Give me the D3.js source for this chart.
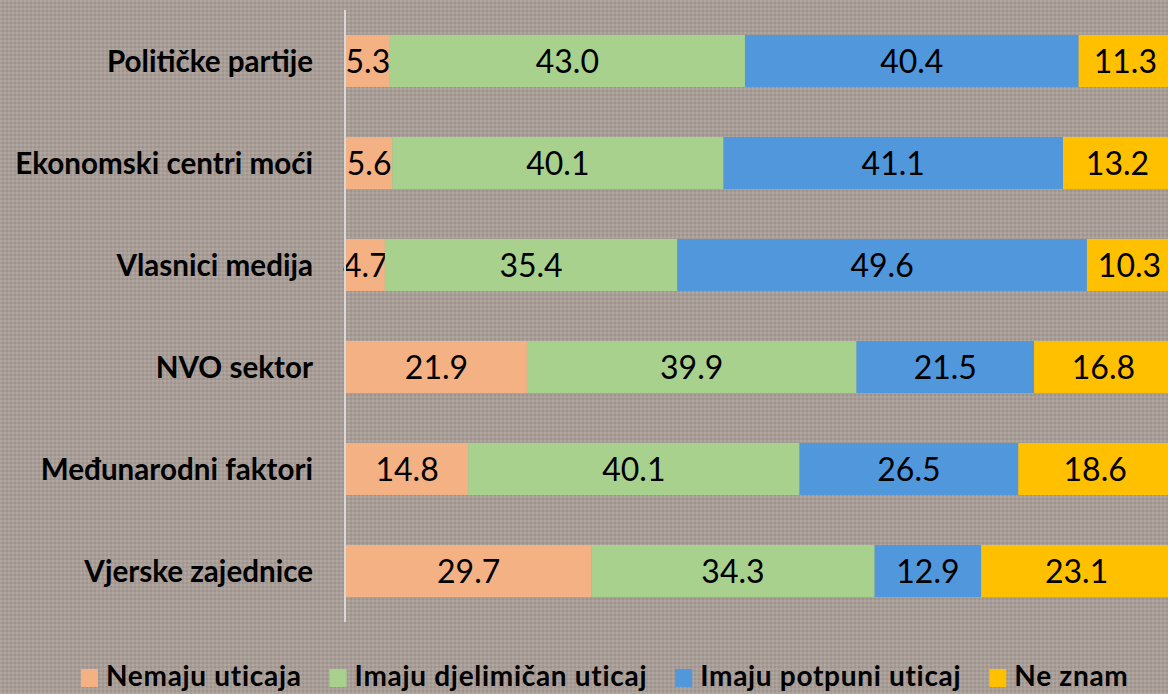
<!DOCTYPE html>
<html><head><meta charset="utf-8">
<script src="https://cdn.jsdelivr.net/npm/d3@7"></script>
<style>html,body{margin:0;padding:0;background:#a69c95;}svg{display:block;}</style>
</head><body>
<svg id="chart" width="1168" height="694"></svg>
<script>
const categories = ["Političke partije","Ekonomski centri moći","Vlasnici medija","NVO sektor","Međunarodni faktori","Vjerske zajednice"];
const seriesNames = ["Nemaju uticaja","Imaju djelimičan uticaj","Imaju potpuni uticaj","Ne znam"];
const nemaju = [5.3,5.6,4.7,21.9,14.8,29.7];
const djelimicno = [43.0,40.1,35.4,39.9,40.1,34.3];
const potpuni = [40.4,41.1,49.6,21.5,26.5,12.9];
const neZnam = [11.3,13.2,10.3,16.8,18.6,23.1];
const colors = ["#F4B183","#A9D18E","#5197DB","#FFC000"];

const svg = d3.select("#chart");
const defs = svg.append("defs");
const pat = defs.append("pattern").attr("id","tex").attr("width",4).attr("height",4).attr("patternUnits","userSpaceOnUse");
pat.append("rect").attr("width",4).attr("height",4).attr("fill","#a89e97");
pat.append("rect").attr("x",0).attr("y",0).attr("width",2).attr("height",2).attr("fill","#b0a7a0");
pat.append("rect").attr("x",2).attr("y",2).attr("width",2).attr("height",2).attr("fill","#9e948d");
svg.append("rect").attr("width",1168).attr("height",694).attr("fill","url(#tex)");

const data = categories.map((c,i)=>({cat:c,vals:[nemaju[i],djelimicno[i],potpuni[i],neZnam[i]]}));
const x = d3.scaleLinear().domain([0,100]).range([346,1172]);
const y = d3.scaleBand().domain(categories).range([10,622]).paddingInner(0.49).paddingOuter(0.245);

const rows = svg.append("g").selectAll("g").data(data).join("g");
rows.each(function(d){
  let acc = 0;
  const g = d3.select(this);
  d.vals.forEach((v,k)=>{
    const x0 = x(acc), x1 = x(acc+v);
    g.append("rect").attr("x",x0).attr("y",y(d.cat)).attr("width",x1-x0).attr("height",y.bandwidth()).attr("fill",colors[k]);
    g.append("text").attr("x",(x0+x1)/2).attr("y",y(d.cat)+y.bandwidth()/2).attr("dy","0.36em")
      .attr("text-anchor","middle").attr("font-family","Lato, 'Open Sans', sans-serif").attr("font-size",32)
      .attr("fill","#000").text(v.toFixed(1));
    acc += v;
  });
});

// axis
const yAxis = d3.axisLeft(y).tickSize(0).tickPadding(32);
const ag = svg.append("g").attr("transform","translate(345,0)").call(yAxis);
ag.select(".domain").attr("stroke","#d9d9d9").attr("stroke-width",2).attr("d","M0,10V622");
ag.attr("font-size",null).attr("font-family",null);
ag.selectAll("text").attr("dy","0.36em").style("font-family","Lato, 'Open Sans', sans-serif").style("font-weight","bold").style("font-size","29.6px").attr("fill","#000");

// legend
const lg = svg.append("g");
let lx = 81;
seriesNames.forEach((n,k)=>{
  lg.append("rect").attr("x",lx).attr("y",669).attr("width",17).attr("height",18).attr("fill",colors[k]);
  const t = lg.append("text").attr("x",lx+25).attr("y",676).attr("dy","0.36em").style("font-family","Lato, 'Open Sans', sans-serif")
    .style("font-weight","bold").style("font-size","28px").style("letter-spacing","0.7px").attr("fill","#000").text(n);
  lx += 25 + t.node().getComputedTextLength() + 28;
});
</script>
</body></html>
